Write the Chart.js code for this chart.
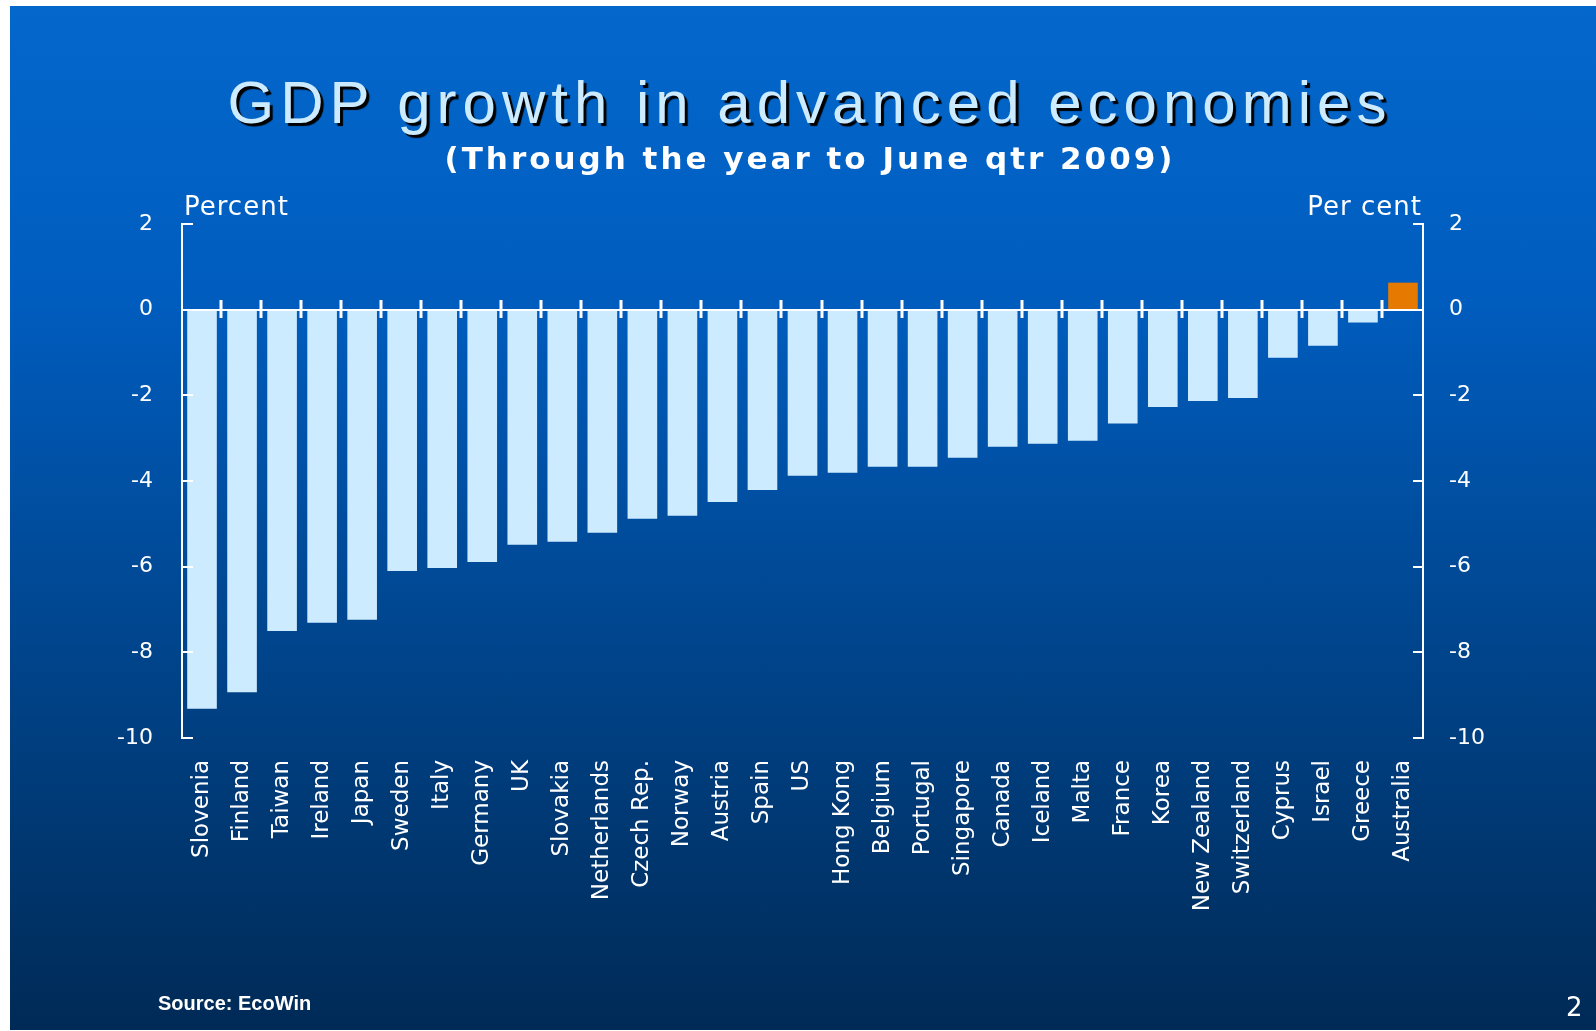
<!DOCTYPE html>
<html lang="en">
<head>
<meta charset="utf-8">
<title>GDP growth in advanced economies</title>
<script src="https://cdn.jsdelivr.net/npm/chart.js@4.4.1/dist/chart.umd.min.js"></script>
<style>
  html, body { margin: 0; padding: 0; background: #fff; }
  body { width: 1596px; height: 1031px; position: relative; overflow: hidden; }
  .fondo {
    position: absolute; left: 10px; top: 6px; width: 1586px; height: 1024px;
    background: linear-gradient(to bottom, #0467cc 0%, #005dbf 28%, #00458d 62%, #002a56 100%);
  }
  #grafico { position: absolute; left: 0; top: 0; }
  .texto { position: absolute; white-space: nowrap; line-height: 1; color: #fff; }
  .titulo {
    left: 0; width: 1620px; text-align: center; top: 68px;
    font: 60px "Liberation Sans", Arial, sans-serif; letter-spacing: 6px;
    color: #cdebff; text-shadow: 3px 3px 1px #000;
  }
  .subtitulo {
    left: 0; width: 1620px; text-align: center; top: 140px;
    font: bold 31px "DejaVu Sans", sans-serif; letter-spacing: 3px;
  }
  .unidad { top: 191px; font: 26px "DejaVu Sans", sans-serif; letter-spacing: 1px; }
  .fuente { left: 158px; top: 992px; font: bold 20px "Liberation Sans", Arial, sans-serif; }
  .pagina { left: 1566px; top: 992px; font: 26px "DejaVu Sans", sans-serif; }
</style>
</head>
<body>
<div class="fondo"></div>
<canvas id="grafico" width="1596" height="1031"></canvas>
<div class="texto titulo">GDP growth in advanced economies</div>
<div class="texto subtitulo">(Through the year to June qtr 2009)</div>
<div class="texto unidad" style="left:184px">Percent</div>
<div class="texto unidad" style="right:174px">Per cent</div>
<div class="texto fuente">Source: EcoWin</div>
<div class="texto pagina">2</div>
<script>
const paises = ["Slovenia", "Finland", "Taiwan", "Ireland", "Japan", "Sweden", "Italy", "Germany", "UK",
  "Slovakia", "Netherlands", "Czech Rep.", "Norway", "Austria", "Spain", "US", "Hong Kong", "Belgium",
  "Portugal", "Singapore", "Canada", "Iceland", "Malta", "France", "Korea", "New Zealand", "Switzerland",
  "Cyprus", "Israel", "Greece", "Australia"];
const crecimiento = [-9.32, -8.93, -7.50, -7.31, -7.24, -6.10, -6.03, -5.89, -5.49,
  -5.42, -5.21, -4.88, -4.81, -4.49, -4.21, -3.88, -3.81, -3.67,
  -3.67, -3.46, -3.20, -3.13, -3.06, -2.66, -2.27, -2.13, -2.06,
  -1.12, -0.84, -0.30, 0.63];
const ticksY = [2, 0, -2, -4, -6, -8, -10];

const celeste = "#cdebff";
const naranja = "#e67a00";
const colores = paises.map((p) => (p === "Australia" ? naranja : celeste));

// marcas de los ejes, linea de cero y separadores entre paises
const marcas = {
  id: "marcas",
  afterDatasetsDraw(chart) {
    const { ctx, chartArea, scales } = chart;
    const y = scales.y;
    const x = scales.x;
    ctx.save();
    ctx.strokeStyle = "#fff";
    ctx.lineWidth = 2;
    ticksY.forEach((v) => {
      const py = Math.round(y.getPixelForValue(v));
      ctx.beginPath();
      ctx.moveTo(chartArea.left, py);
      ctx.lineTo(chartArea.left + 11, py);
      ctx.moveTo(chartArea.right, py);
      ctx.lineTo(chartArea.right - 10, py);
      ctx.stroke();
    });
    const cero = Math.round(y.getPixelForValue(0));
    ctx.beginPath();
    ctx.moveTo(chartArea.left, cero);
    ctx.lineTo(chartArea.right, cero);
    ctx.stroke();
    ctx.lineWidth = 3;
    for (let i = 1; i < paises.length; i++) {
      const px = Math.round((x.getPixelForValue(i - 1) + x.getPixelForValue(i)) / 2) - 1;
      ctx.beginPath();
      ctx.moveTo(px, cero - 10);
      ctx.lineTo(px, cero + 8);
      ctx.stroke();
    }
    ctx.restore();
  },
};

function ejeY(ancho, padding, posicion) {
  return {
    position: posicion,
    min: -10,
    max: 2,
    grid: { display: false, drawTicks: false },
    border: { display: true, color: "#fff", width: 2 },
    ticks: {
      stepSize: 2,
      padding: padding,
      color: "#fff",
      font: { family: "'DejaVu Sans', sans-serif", size: 22 },
    },
    afterFit: (s) => {
      s.width = ancho;
      s.paddingTop = 0;
      s.paddingBottom = 0;
    },
  };
}

new Chart(document.getElementById("grafico"), {
  type: "bar",
  data: {
    labels: paises,
    datasets: [
      {
        data: crecimiento,
        backgroundColor: colores,
        borderWidth: 0,
        barPercentage: 0.74,
        categoryPercentage: 1,
      },
    ],
  },
  options: {
    responsive: false,
    animation: false,
    devicePixelRatio: 1,
    layout: { padding: { top: 224, left: 0, right: 0, bottom: 0 } },
    plugins: { legend: { display: false }, tooltip: { enabled: false } },
    scales: {
      x: {
        grid: { display: false, drawTicks: false },
        border: { display: false },
        ticks: {
          color: "#fff",
          autoSkip: false,
          minRotation: 90,
          maxRotation: 90,
          padding: 22,
          font: { family: "'DejaVu Sans', sans-serif", size: 23 },
        },
        afterFit: (s) => {
          s.height = 1031 - 738;
          s.paddingLeft = 0;
          s.paddingRight = 0;
        },
      },
      y: ejeY(182, 29, "left"),
      y2: ejeY(1596 - 1423, 26, "right"),
    },
  },
  plugins: [marcas],
});
</script>
</body>
</html>
